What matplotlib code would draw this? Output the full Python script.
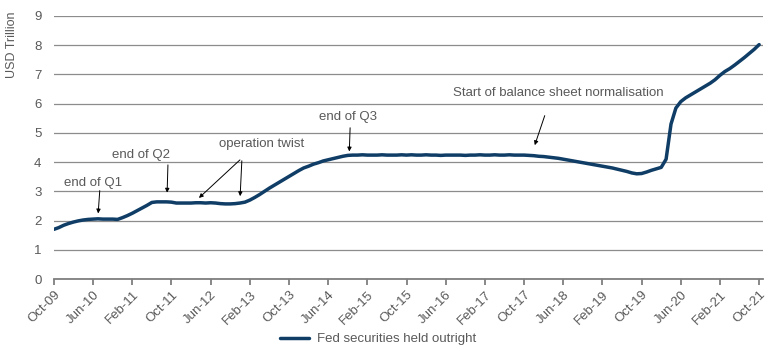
import numpy as np
import matplotlib
matplotlib.use("Agg")
import matplotlib.pyplot as plt
from matplotlib import rcParams

rcParams['font.family'] = 'Liberation Sans'
rcParams['font.size'] = 9.5

# monthly month-end values, Oct-09 .. Oct-21, USD trillion
securities = [
    1.70, 1.76, 1.84,                                                        # 2009
    1.90, 1.95, 1.99, 2.02, 2.04, 2.05, 2.06, 2.05, 2.05, 2.05, 2.04, 2.10,  # 2010
    2.17, 2.25, 2.34, 2.43, 2.52, 2.62, 2.64, 2.64, 2.64, 2.63, 2.60, 2.60,  # 2011
    2.60, 2.60, 2.61, 2.61, 2.60, 2.61, 2.60, 2.58, 2.57, 2.57, 2.58, 2.60,  # 2012
    2.63, 2.70, 2.79, 2.89, 3.00, 3.11, 3.21, 3.31, 3.41, 3.51, 3.61, 3.71,  # 2013
    3.80, 3.86, 3.93, 3.98, 4.04, 4.08, 4.12, 4.16, 4.20, 4.23, 4.24, 4.24,  # 2014
    4.25, 4.24, 4.24, 4.24, 4.25, 4.24, 4.24, 4.24, 4.25, 4.24, 4.25, 4.24,  # 2015
    4.24, 4.25, 4.24, 4.24, 4.23, 4.24, 4.24, 4.24, 4.24, 4.23, 4.24, 4.24,  # 2016
    4.25, 4.24, 4.24, 4.25, 4.24, 4.24, 4.25, 4.24, 4.24, 4.24, 4.23, 4.22,  # 2017
    4.20, 4.19, 4.17, 4.15, 4.13, 4.10, 4.07, 4.04, 4.01, 3.98, 3.95, 3.92,  # 2018
    3.89, 3.86, 3.83, 3.80, 3.76, 3.72, 3.68, 3.63, 3.60, 3.61, 3.66, 3.72,  # 2019
    3.77, 3.82, 4.10, 5.30, 5.85, 6.07, 6.20, 6.30, 6.40, 6.50, 6.60, 6.70,  # 2020
    6.82, 6.97, 7.10, 7.20, 7.32, 7.45, 7.58, 7.72, 7.86, 8.02,              # 2021
]
tick_labels = ["Oct-09", "Jun-10", "Feb-11", "Oct-11", "Jun-12", "Feb-13", "Oct-13",
               "Jun-14", "Feb-15", "Oct-15", "Jun-16", "Feb-17", "Oct-17", "Jun-18",
               "Feb-19", "Oct-19", "Jun-20", "Feb-21", "Oct-21"]

months = np.arange(len(securities))
navy = "#0f3d66"
grey_txt = "#595959"

fig = plt.figure(figsize=(7.7, 3.55), dpi=100)
ax = fig.add_axes([0.070, 0.214, 0.921, 0.741])

ax.plot(months, securities, color=navy, linewidth=2.5, solid_capstyle='round',
        label="Fed securities held outright", zorder=3)

ax.set_xlim(0, 144.8)
ax.set_ylim(0, 9)
ax.set_yticks(range(0, 10))
ax.set_xticks(np.arange(0, 145, 8))
ax.set_xticklabels(tick_labels, rotation=45, ha='right', rotation_mode='anchor')

ax.grid(axis='y', color='#8c8c8c', linewidth=0.9)
ax.set_axisbelow(True)
for s in ['top', 'right', 'left']:
    ax.spines[s].set_visible(False)
ax.spines['bottom'].set_color('#7f7f7f')
ax.spines['bottom'].set_linewidth(1.3)
ax.tick_params(axis='y', length=0, pad=9, colors=grey_txt, labelsize=9.5)
ax.tick_params(axis='x', length=4, width=1.3, color='#7f7f7f',
               labelsize=9.5, pad=3)
ax.tick_params(axis='x', labelcolor=grey_txt)

ax.set_ylabel("USD Trillion", color=grey_txt, fontsize=9)
ax.yaxis.set_label_coords(-0.051, 0.89)

# annotations
arrow = dict(arrowstyle='-|>', color='black', lw=0.7, mutation_scale=6)
txt = dict(ha='center', va='center', color=grey_txt, fontsize=9.5)
ax.text(8.0, 3.30, "end of Q1", **txt)
ax.annotate("", xy=(9.0, 2.15), xytext=(9.4, 3.12), arrowprops=arrow)
ax.text(17.8, 4.25, "end of Q2", **txt)
ax.annotate("", xy=(23.1, 2.86), xytext=(23.3, 4.0), arrowprops=arrow)
ax.text(42.5, 4.62, "operation twist", **txt)
ax.annotate("", xy=(29.2, 2.71), xytext=(38.4, 4.14), arrowprops=arrow)
ax.annotate("", xy=(38.0, 2.74), xytext=(38.4, 4.14), arrowprops=arrow)
ax.text(60.1, 5.55, "end of Q3", **txt)
ax.annotate("", xy=(60.3, 4.27), xytext=(60.5, 5.27), arrowprops=arrow)
ax.text(103, 6.37, "Start of balance sheet normalisation", **txt)
ax.annotate("", xy=(98.0, 4.49), xytext=(100.4, 5.68), arrowprops=arrow)

leg = fig.legend(loc='center', bbox_to_anchor=(0.4916, 0.045), frameon=False,
                 fontsize=9.5, handlelength=2.2, handletextpad=0.6)
for t in leg.get_texts():
    t.set_color(grey_txt)

fig.savefig("out.png", dpi=100)
